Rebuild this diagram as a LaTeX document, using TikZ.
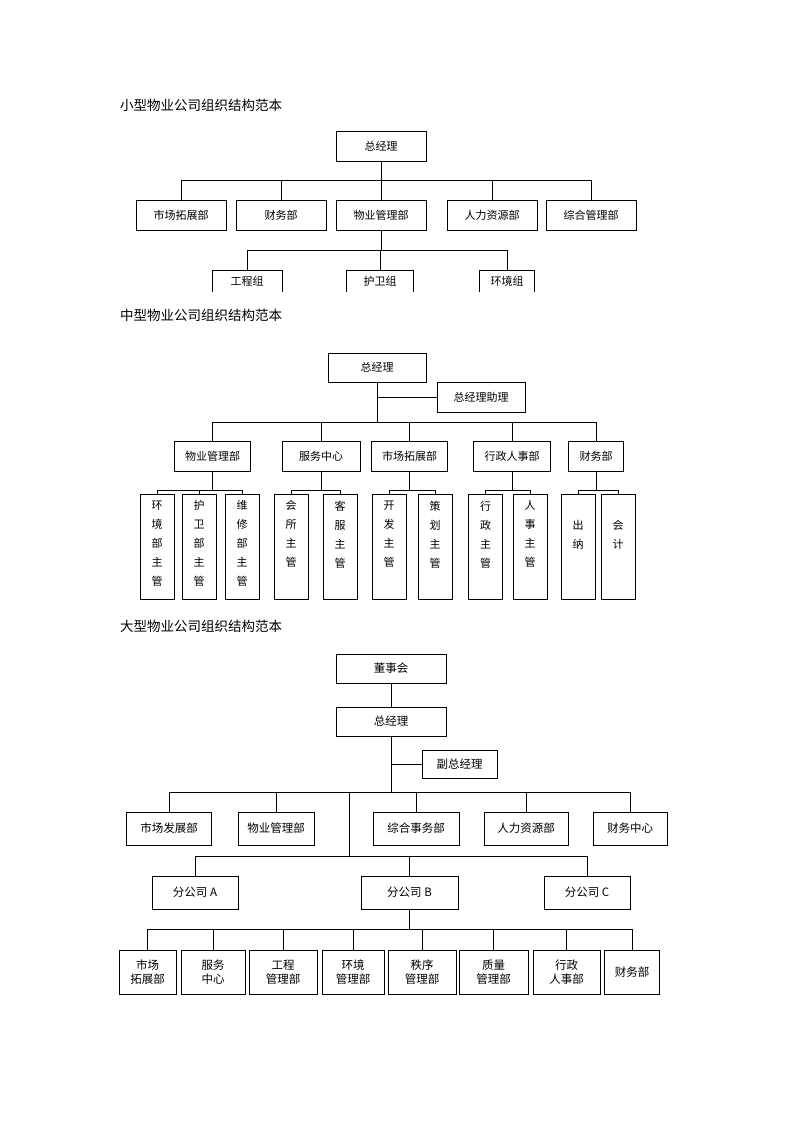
\documentclass[tikz,border=0pt]{standalone}
\usepackage{fontspec}
\setmainfont{Noto Sans CJK SC}

\begin{document}
\begin{tikzpicture}[x=1pt,y=-1pt,
  box/.style={draw,line width=0.9pt,inner sep=0,minimum height=30,font=\fontsize{11}{13}\selectfont},
  lbox/.style={box,minimum height=33,font=\fontsize{11.5}{14}\selectfont},
  tbox/.style={lbox,minimum height=44,align=center},
  vbox/.style={draw,line width=0.9pt,inner sep=0,minimum width=34,minimum height=105},
  vtxt/.style={anchor=north,align=center,inner sep=0,font=\fontsize{11}{19}\selectfont},
  link/.style={line width=0.8pt},
  title/.style={anchor=west,inner sep=0,font=\fontsize{13.5}{16}\selectfont}]
\fill[white] (0,0) rectangle (793,1122);
\useasboundingbox (0,0) rectangle (793,1122);

% small company
\node[title] (s-title) at (120,105) {小型物业公司组织结构范本};
\node[box,minimum width=90] (s-gm) at (381,146) {总经理};
\coordinate (s-bus) at (0,180);
\coordinate (s-sub) at (0,250);
\foreach \nm/\cx/\txt in {s-d1/181/市场拓展部,s-d2/281/财务部,s-d3/381/物业管理部,s-d4/492/人力资源部,s-d5/591/综合管理部}
  {\node[box,minimum width=90] (\nm) at (\cx,215) {\txt};
   \draw[link] (\nm.north) -- (\nm.north |- s-bus);}
\draw[link] (s-gm.south) -- (s-gm.south |- s-bus);
\draw[link] (s-d1.north |- s-bus) -- (s-d5.north |- s-bus);
\draw[link] (s-d3.south) -- (s-d3.south |- s-sub);
\foreach \nm/\cx/\bw/\txt in {s-g1/247/69/工程组,s-g2/380/66/护卫组,s-g3/507/54/环境组}
  {\node[box,draw=none,minimum width=\bw,minimum height=21] (\nm) at (\cx,281.5) {\txt};
   \draw[line width=0.9pt] (\nm.south west) |- (\nm.north east) -- (\nm.south east);
   \draw[link] (\nm.north) -- (\nm.north |- s-sub);}
\draw[link] (s-g1.north |- s-sub) -- (s-g3.north |- s-sub);

% medium company
\node[title] (m-title) at (120,315.5) {中型物业公司组织结构范本};
\node[box,minimum width=98,minimum height=29] (m-gm) at (377,367.5) {总经理};
\node[box,minimum width=88] (m-asst) at (481,397.5) {总经理助理};
\coordinate (m-bus) at (0,422);
\coordinate (m-sub) at (0,490);
\draw[link] (m-gm.south) -- (m-gm.south |- m-bus);
\draw[link] (m-gm.south |- m-asst.west) -- (m-asst.west);
\foreach \nm/\cx/\bw/\txt in {m-d1/212.6/76/物业管理部,m-d2/321/78/服务中心,m-d3/409.6/76/市场拓展部,m-d4/512/77/行政人事部,m-d5/596/55/财务部}
  {\node[box,minimum width=\bw] (\nm) at (\cx,456) {\txt};
   \draw[link] (\nm.north) -- (\nm.north |- m-bus);
   \draw[link] (\nm.south) -- (\nm.south |- m-sub);}
\draw[link] (m-d1.north |- m-bus) -- (m-d5.north |- m-bus);
\foreach \nm/\cx/\dy/\txt in {m-s1/157/7/{环\\境\\部\\主\\管},m-s2/199/7/{护\\卫\\部\\主\\管},m-s3/242/7/{维\\修\\部\\主\\管},
    m-s4/291/7/{会\\所\\主\\管},m-s5/340/7/{客\\服\\主\\管},m-s6/389/7/{开\\发\\主\\管},m-s7/435/7/{策\\划\\主\\管},
    m-s8/485.5/7/{行\\政\\主\\管},m-s9/530/7/{人\\事\\主\\管},m-s10/578/27/{出\\纳},m-s11/618/27/{会\\计}}
  {\node[vbox,label={[vtxt,yshift=-\dy]north:\txt}] (\nm) at (\cx,546.5) {};
   \draw[link] (\nm.north) -- (\nm.north |- m-sub);}
\draw[link] (m-s1.north |- m-sub) -- (m-s3.north |- m-sub);
\draw[link] (m-s4.north |- m-sub) -- (m-s5.north |- m-sub);
\draw[link] (m-s6.north |- m-sub) -- (m-s7.north |- m-sub);
\draw[link] (m-s8.north |- m-sub) -- (m-s9.north |- m-sub);
\draw[link] (m-s10.north |- m-sub) -- (m-s11.north |- m-sub);

% large company
\node[title] (l-title) at (120,626) {大型物业公司组织结构范本};
\node[lbox,minimum width=110,minimum height=29] (l-bd) at (391,668.5) {董事会};
\node[lbox,minimum width=110,minimum height=29] (l-gm) at (391,721.5) {总经理};
\node[lbox,minimum width=75,minimum height=28] (l-vgm) at (459.5,764) {副总经理};
\coordinate (l-bus) at (0,792);
\coordinate (l-fork) at (349,792);
\coordinate (l-bbus) at (0,856);
\coordinate (l-sub) at (0,929);
\draw[link] (l-bd) -- (l-gm);
\draw[link] (l-gm.south) -- (l-gm.south |- l-bus);
\draw[link] (l-gm.south |- l-vgm.west) -- (l-vgm.west);
\foreach \nm/\cx/\bw/\txt in {l-d1/169/85/市场发展部,l-d2/276/76/物业管理部,l-d3/416/86/综合事务部,l-d4/526/84/人力资源部,l-d5/630/74/财务中心}
  {\node[lbox,minimum width=\bw] (\nm) at (\cx,828.5) {\txt};
   \draw[link] (\nm.north) -- (\nm.north |- l-bus);}
\draw[link] (l-d1.north |- l-bus) -- (l-d5.north |- l-bus);
\draw[link] (l-fork) -- (l-fork |- l-bbus);
\foreach \nm/\cx/\bw/\txt in {l-a/195/86/分公司 A,l-b/409.5/97/分公司 B,l-c/587/86/分公司 C}
  {\node[lbox,minimum width=\bw] (\nm) at (\cx,892.5) {\txt};
   \draw[link] (\nm.north) -- (\nm.north |- l-bbus);}
\draw[link] (l-a.north |- l-bbus) -- (l-c.north |- l-bbus);
\draw[link] (l-b.south) -- (l-b.south |- l-sub);
\foreach \nm/\cx/\bw/\txt in {l-r1/147.5/57/{市场\\拓展部},l-r2/213/64/{服务\\中心},l-r3/283/68/{工程\\管理部},l-r4/353/62/{环境\\管理部},
    l-r5/422/68/{秩序\\管理部},l-r6/493.5/69/{质量\\管理部},l-r7/566.5/67/{行政\\人事部},l-r8/632/55/财务部}
  {\node[tbox,minimum width=\bw] (\nm) at (\cx,972) {\txt};
   \draw[link] (\nm.north) -- (\nm.north |- l-sub);}
\draw[link] (l-r1.north |- l-sub) -- (l-r8.north |- l-sub);
\end{tikzpicture}
\end{document}
